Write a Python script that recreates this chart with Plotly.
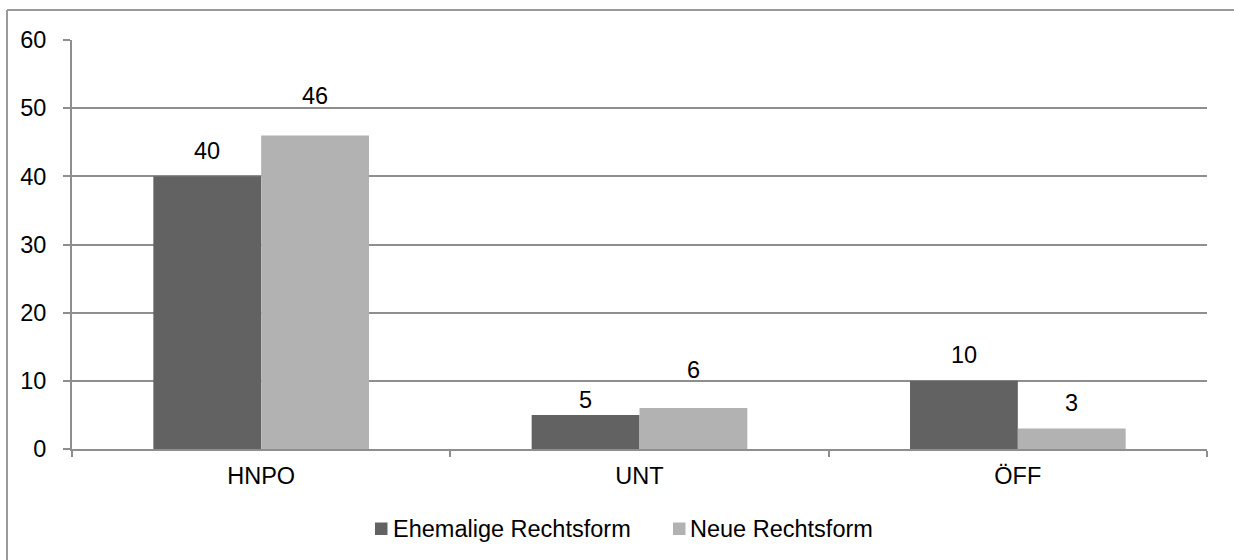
import plotly.graph_objects as go

# Kategorien und Werte
categories = ["HNPO", "UNT", "ÖFF"]
series_names = ["Ehemalige Rechtsform", "Neue Rechtsform"]
ehemalige = [40, 5, 10]
neue = [46, 6, 3]
y_ticks = [0, 10, 20, 30, 40, 50, 60]

DARK = "#626262"
LIGHT = "#b2b2b2"
GRID = "#8e8e8e"
FRAME = "#9a9a9a"
FONT = "Liberation Sans, Arial, sans-serif"
FS = 23.5

# Geometrie des Diagrammbereichs (Pixel)
W, H = 1234, 560
L, R, T, B = 72, 27, 40, 111
pw, ph = W - L - R, H - T - B

def px_x(p):
    return (p - L) / pw

def px_y(p):
    return (H - B - p) / ph

fig = go.Figure()
for name, vals, col in [(series_names[0], ehemalige, DARK), (series_names[1], neue, LIGHT)]:
    fig.add_trace(go.Bar(
        name=name, x=categories, y=vals,
        marker=dict(color=col, line=dict(width=0)),
        showlegend=False, hoverinfo="x+y+name",
    ))

# Beschriftungen über den Balken (Abstand in Pixel je Balken)
label_lift = [[25, 14.5, 26], [39, 38.5, 25.5]]
half_bar = 54
annotations = []
for s, vals in enumerate([ehemalige, neue]):
    for i, (cat, v) in enumerate(zip(categories, vals)):
        annotations.append(dict(
            x=cat, y=v, xref="x", yref="y", text=str(v), showarrow=False,
            xshift=(-half_bar if s == 0 else half_bar), yshift=label_lift[s][i],
            yanchor="middle", xanchor="center",
            font=dict(size=FS, color="#000000", family=FONT),
        ))

# Legende unten mittig
legend_items = [(series_names[0], DARK, 375, 393), (series_names[1], LIGHT, 673, 690)]
shapes = []
for name, col, sq_x, tx in legend_items:
    shapes.append(dict(
        type="rect", xref="paper", yref="paper",
        x0=px_x(sq_x), x1=px_x(sq_x + 12.5), y0=px_y(535), y1=px_y(522.5),
        fillcolor=col, line=dict(width=0),
    ))
    annotations.append(dict(
        x=px_x(tx - 2), y=px_y(529), xref="paper", yref="paper", text=name,
        showarrow=False, xanchor="left", yanchor="middle",
        font=dict(size=FS, color="#000000", family=FONT),
    ))

# Rahmen (oben und links sichtbar)
shapes.append(dict(type="line", xref="paper", yref="paper",
                   x0=px_x(7), x1=px_x(1250), y0=px_y(10), y1=px_y(10),
                   line=dict(color=FRAME, width=2)))
shapes.append(dict(type="line", xref="paper", yref="paper",
                   x0=px_x(7), x1=px_x(7), y0=px_y(10), y1=px_y(580),
                   line=dict(color=FRAME, width=2)))

fig.update_layout(
    width=W, height=H,
    margin=dict(l=L, r=R, t=T, b=B, autoexpand=False),
    paper_bgcolor="white", plot_bgcolor="white",
    barmode="group", bargap=0.43, bargroupgap=0,
    font=dict(family=FONT, size=FS, color="#000000"),
    showlegend=False,
    xaxis=dict(
        type="category", tickson="boundaries", ticks="outside", ticklen=6,
        tickcolor=GRID, tickwidth=2, showline=True, linecolor=GRID, linewidth=2,
        showgrid=False, tickfont=dict(size=FS), ticklabelstandoff=5,
    ),
    yaxis=dict(
        range=[0, 60], tickvals=y_ticks, ticks="outside", ticklen=7,
        tickcolor=GRID, tickwidth=2, showline=True, linecolor=GRID, linewidth=2,
        showgrid=True, gridcolor=GRID, gridwidth=2, zeroline=False,
        tickfont=dict(size=FS), ticklabelstandoff=12,
    ),
    shapes=shapes,
    annotations=annotations,
)

fig.write_html("out.html")
